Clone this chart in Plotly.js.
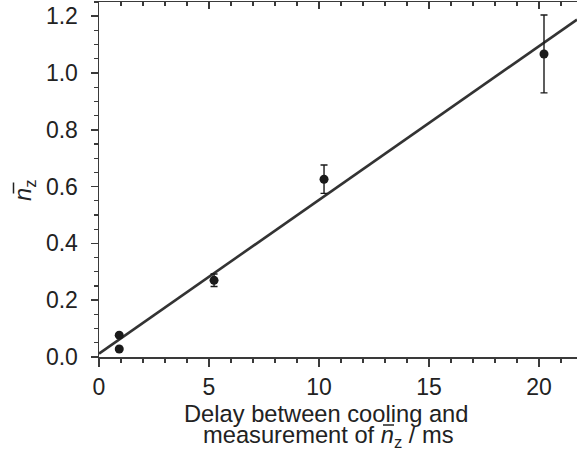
<!DOCTYPE html>
<html>
<head>
<meta charset="utf-8">
<script src="https://cdn.plot.ly/plotly-3.0.1.min.js"></script>
<style>
html,body{margin:0;padding:0;background:#fff;}
#chart{width:577px;height:461px;}
</style>
</head>
<body>
<div id="chart"></div>
<script>
// Data
var delayMs = [0.92, 0.92, 5.23, 10.23, 20.23];
var nbarZ   = [0.077, 0.028, 0.270, 0.626, 1.067];
var nbarErr = [0.004, 0.004, 0.022, 0.050, 0.137];
// Linear fit line end points
var fitX = [0, 21.73];
var fitY = [0.012, 1.188];
// Axis labels
var xTitle1 = 'Delay between cooling and';
var xTitle2 = 'measurement of <i>n</i><sub>z</sub> / ms';
var yTitle  = '<i>n</i><sub>z</sub>';

var FONT = '"Liberation Sans", Arial, Helvetica, sans-serif';
var AX = '#3a3a3a';

function px2paperX(p){ return (p - 99) / 478; }
function px2paperY(p){ return (357 - p) / 355; }

var traces = [
  {
    x: fitX, y: fitY, mode: 'lines', type: 'scatter',
    line: {color: '#333', width: 2.6}, hoverinfo: 'skip', showlegend: false
  },
  {
    x: delayMs, y: nbarZ, mode: 'markers', type: 'scatter',
    marker: {color: '#1a1a1a', size: 9},
    error_y: {type: 'data', array: nbarErr, visible: true, color: '#1a1a1a', thickness: 1.4, width: 3.5},
    showlegend: false
  },
  { x: [0], y: [0], xaxis: 'x2', yaxis: 'y', mode: 'markers', marker: {opacity: 0}, hoverinfo: 'skip', showlegend: false }
];

var layout = {
  width: 577, height: 461,
  margin: {l: 99, r: 0, t: 2, b: 104, pad: 0},
  paper_bgcolor: '#fff', plot_bgcolor: '#fff',
  font: {family: FONT, size: 23, color: '#222'},
  showlegend: false,
  xaxis: {
    range: [0, 21.73], dtick: 5, tick0: 0,
    showgrid: false, zeroline: false,
    showline: true, linecolor: AX, linewidth: 2,
    ticks: 'outside', ticklen: 8, tickwidth: 1.5, tickcolor: AX,
    minor: {ticks: 'outside', ticklen: 4, dtick: 1, tickwidth: 1.3, tickcolor: AX, showgrid: false},
    tickfont: {family: FONT, size: 23, color: '#222'}
  },
  xaxis2: {
    overlaying: 'x', side: 'top', anchor: 'y',
    range: [0, 21.73], dtick: 5, tick0: 0,
    showgrid: false, zeroline: false, showticklabels: false,
    showline: true, linecolor: AX, linewidth: 1.5,
    ticks: 'inside', ticklen: 7, tickwidth: 1.5, tickcolor: AX,
    minor: {ticks: 'inside', ticklen: 4, dtick: 1, tickwidth: 1.3, tickcolor: AX, showgrid: false}
  },
  yaxis: {
    range: [0, 1.25], dtick: 0.2, tick0: 0, tickformat: '.1f',
    showgrid: false, zeroline: false,
    showline: true, linecolor: AX, linewidth: 1.5,
    ticks: 'outside', ticklen: 7, tickwidth: 1.5, tickcolor: AX,
    ticklabelstandoff: 8,
    minor: {ticks: 'outside', ticklen: 4, dtick: 0.05, tickwidth: 1.3, tickcolor: AX, showgrid: false},
    tickfont: {family: FONT, size: 23, color: '#222'}
  },
  annotations: [
    {text: xTitle1, xref: 'paper', yref: 'paper', x: 0.474, y: -0.118, xanchor: 'center', yanchor: 'top',
     showarrow: false, font: {family: FONT, size: 23.7, color: '#222'}},
    {text: xTitle2, xref: 'paper', yref: 'paper', x: 0.481, y: -0.178, xanchor: 'center', yanchor: 'top',
     showarrow: false, font: {family: FONT, size: 23.7, color: '#222'}},
    {text: yTitle, xref: 'paper', yref: 'paper', x: -0.155, y: 0.47, xanchor: 'center', yanchor: 'middle',
     textangle: -90, showarrow: false, font: {family: FONT, size: 23.7, color: '#222'}}
  ],
  shapes: [
    {type: 'line', xref: 'paper', yref: 'paper', layer: 'above',
     x0: px2paperX(383), x1: px2paperX(394), y0: px2paperY(425), y1: px2paperY(425),
     line: {color: '#222', width: 1.5}},
    {type: 'line', xref: 'paper', yref: 'paper', layer: 'above',
     x0: px2paperX(13.5), x1: px2paperX(13.5), y0: px2paperY(182.5), y1: px2paperY(193.5),
     line: {color: '#222', width: 1.5}}
  ]
};

Plotly.newPlot('chart', traces, layout, {staticPlot: true, displayModeBar: false});
</script>
</body>
</html>
